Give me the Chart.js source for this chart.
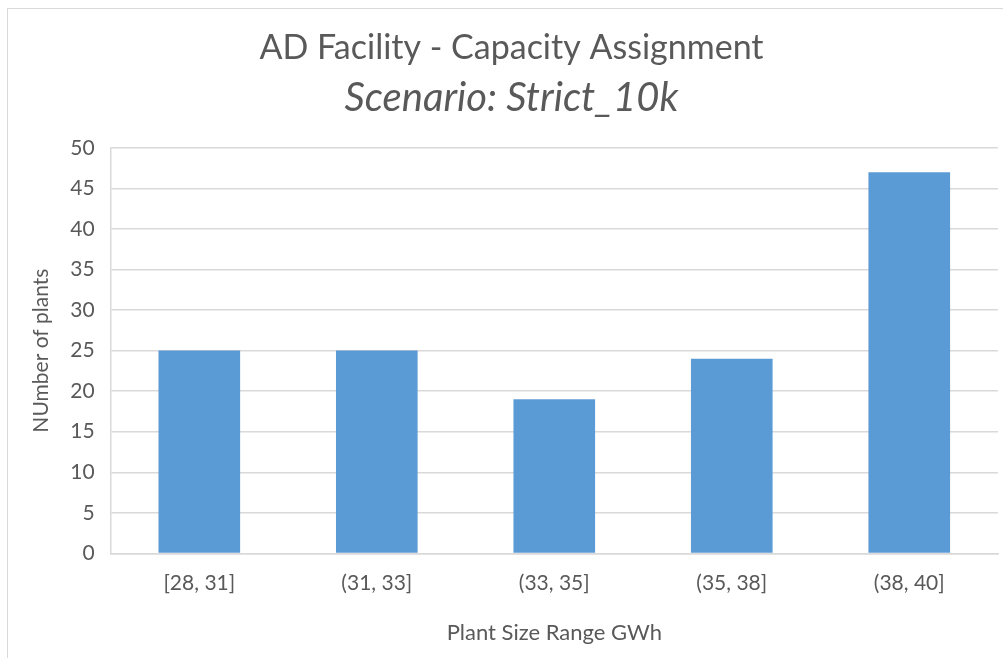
<!DOCTYPE html>
<html>
<head>
<meta charset="utf-8">
<script src="https://cdn.jsdelivr.net/npm/chart.js@4"></script>
<style>
  html, body { margin: 0; padding: 0; background: #fff; overflow: hidden; }
  #frame {
    position: absolute; left: 7px; top: 8px; width: 1020px; height: 680px;
    border: 1.5px solid #d9d9d9; box-sizing: border-box;
  }
  #wrap { position: absolute; left: 0; top: 0; width: 1003px; height: 658px; }
</style>
</head>
<body>
<div id="frame"></div>
<div id="wrap"><canvas id="capChart"></canvas></div>
<script>
// chart data
const categories = ['[28, 31]', '(31, 33]', '(33, 35]', '(35, 38]', '(38, 40]'];
const plantCounts = [25, 25, 19, 24, 47];
const yTicks = [0, 5, 10, 15, 20, 25, 30, 35, 40, 45, 50];

const FONT = "Lato, 'Open Sans', sans-serif";
const GREY = '#595959';

const ctx = document.getElementById('capChart').getContext('2d');

new Chart(ctx, {
  type: 'bar',
  data: {
    labels: categories,
    datasets: [{
      label: 'Plants',
      data: plantCounts,
      backgroundColor: '#5b9bd5',
      borderWidth: 0,
      categoryPercentage: 1,
      barPercentage: 0.46
    }]
  },
  options: {
    responsive: true,
    maintainAspectRatio: false,
    animation: false,
    layout: {
      padding: { left: 25, right: 5, top: 28, bottom: 8 }
    },
    scales: {
      x: {
        grid: { display: false, drawTicks: false },
        border: { display: true, color: '#d9d9d9', width: 1.5 },
        ticks: {
          color: GREY,
          font: { family: FONT, size: 21 },
          padding: 17
        },
        title: {
          display: true,
          text: 'Plant Size Range GWh',
          color: GREY,
          font: { family: FONT, size: 22 },
          padding: { top: 7, bottom: 4 }
        }
      },
      y: {
        min: 0,
        max: 50,
        afterBuildTicks: axis => {
          axis.ticks = yTicks.map(v => ({ value: v }));
        },
        grid: { color: '#d9d9d9', lineWidth: 1.5, drawTicks: false },
        border: { display: true, color: '#d9d9d9', width: 1.5 },
        ticks: {
          color: GREY,
          font: { family: FONT, size: 21 },
          padding: 16
        },
        title: {
          display: true,
          text: 'NUmber of plants',
          color: GREY,
          font: { family: FONT, size: 21 },
          padding: { top: 4, bottom: 0 }
        }
      }
    },
    plugins: {
      legend: { display: false },
      tooltip: { enabled: false },
      title: {
        display: true,
        text: 'AD Facility - Capacity Assignment',
        color: GREY,
        font: { family: FONT, size: 34, weight: 'normal' },
        padding: { top: 0, bottom: 5 }
      },
      subtitle: {
        display: true,
        text: 'Scenario: Strict_10k',
        color: GREY,
        font: { family: FONT, size: 40, style: 'italic', weight: 'normal' },
        padding: { top: 0, bottom: 26 }
      }
    }
  }
});
</script>
</body>
</html>
